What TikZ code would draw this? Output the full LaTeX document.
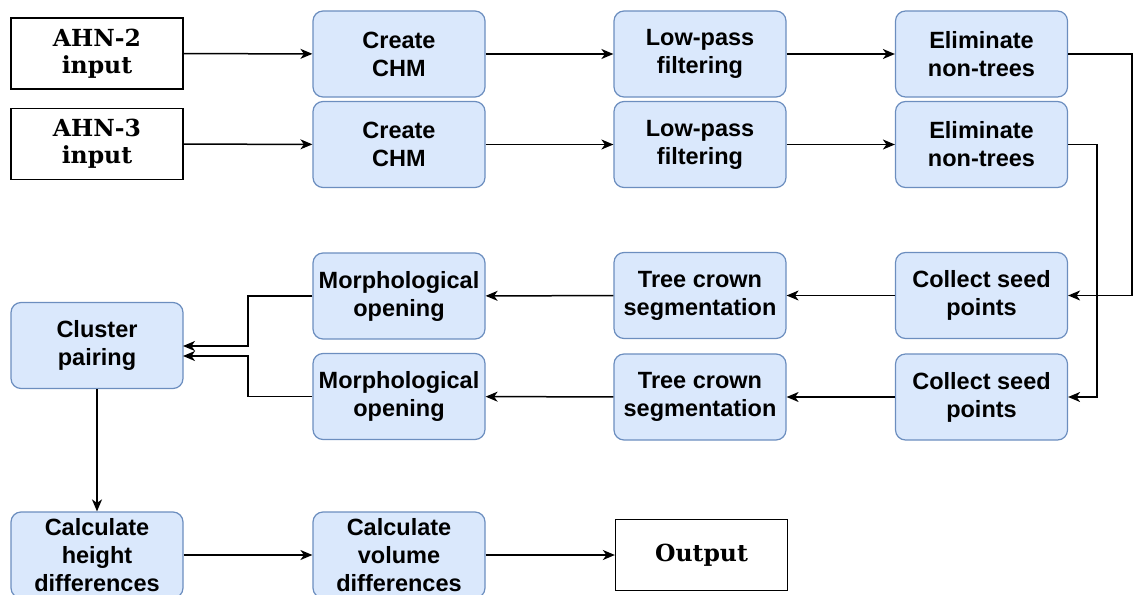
\documentclass[tikz,border=0pt]{standalone}
\usepackage{fontspec}
\setmainfont{DejaVu Serif}
\newfontfamily\boxsans{Liberation Sans}
\usetikzlibrary{arrows.meta}
\definecolor{boxfill}{HTML}{DAE8FC}
\definecolor{boxline}{HTML}{6C8EBF}
\tikzset{
  proc/.style={draw=boxline, fill=boxfill, line width=1.2pt, rounded corners=10pt,
    minimum width=172pt, minimum height=86pt, align=center, inner sep=0pt,
    font=\boxsans\bfseries\fontsize{23.5}{28}\selectfont},
  io/.style={draw=black, fill=white, line width=1.3pt, minimum width=172pt,
    minimum height=71pt, align=center, inner sep=0pt,
    font=\bfseries\fontsize{23.5}{27}\selectfont},
  conn/.style={draw=black, line width=1.5pt, -{Stealth[length=12pt,width=10pt,inset=3.5pt]}},
}
\begin{document}
\begin{tikzpicture}[x=1pt,y=-1pt]
\useasboundingbox (0,0) rectangle (1134,594);
\node[io] (ahn2) at (97,53.5) {AHN-2\\input};
\node[io] (ahn3) at (97,144) {AHN-3\\input};
\node[proc] (chm1) at (399,54) {Create\\CHM};
\node[proc] (chm2) at (399,144.5) {Create\\CHM};
\node[proc] (lp1) at (700,54) {Low-pass\\filtering};
\node[proc] (lp2) at (700,144.5) {Low-pass\\filtering};
\node[proc] (el1) at (981.5,54) {Eliminate\\non-trees};
\node[proc] (el2) at (981.5,144.5) {Eliminate\\non-trees};
\node[proc] (cs1) at (981.5,295.5) {Collect seed\\points};
\node[proc] (cs2) at (981.5,397) {Collect seed\\points};
\node[proc] (tc1) at (700,295.5) {Tree crown\\segmentation};
\node[proc] (tc2) at (700,397) {Tree crown\\segmentation};
\node[proc] (mo1) at (399,296) {Morphological\\opening};
\node[proc] (mo2) at (399,396.5) {Morphological\\opening};
\node[proc] (cp) at (97,345.5) {Cluster\\pairing};
\node[proc] (ch) at (97,555) {Calculate\\height\\differences};
\node[proc] (cv) at (399,555) {Calculate\\volume\\differences};
\node[io] (out) at (701.5,555) {Output};
\coordinate (cpa) at (183,346);
\coordinate (cpb) at (183,356);
\draw[conn] (ahn2) -- (chm1);
\draw[conn] (ahn3) -- (chm2);
\draw[conn] (chm1) -- (lp1);
\draw[conn] (chm2) -- (lp2);
\draw[conn] (lp1) -- (el1);
\draw[conn] (lp2) -- (el2);
\draw[conn] (el1.east) -- (1132,54) |- (cs1.east);
\draw[conn] (el2.east) -- (1097,144.5) |- (cs2.east);
\draw[conn] (cs1) -- (tc1);
\draw[conn] (cs2) -- (tc2);
\draw[conn] (tc1) -- (mo1);
\draw[conn] (tc2) -- (mo2);
\draw[conn] (mo1.west) -- (248,296) |- (cpa);
\draw[conn] (mo2.west) -- (248,396.5) |- (cpb);
\draw[conn] (cp) -- (ch);
\draw[conn] (ch) -- (cv);
\draw[conn] (cv) -- (out);
\end{tikzpicture}
\end{document}
